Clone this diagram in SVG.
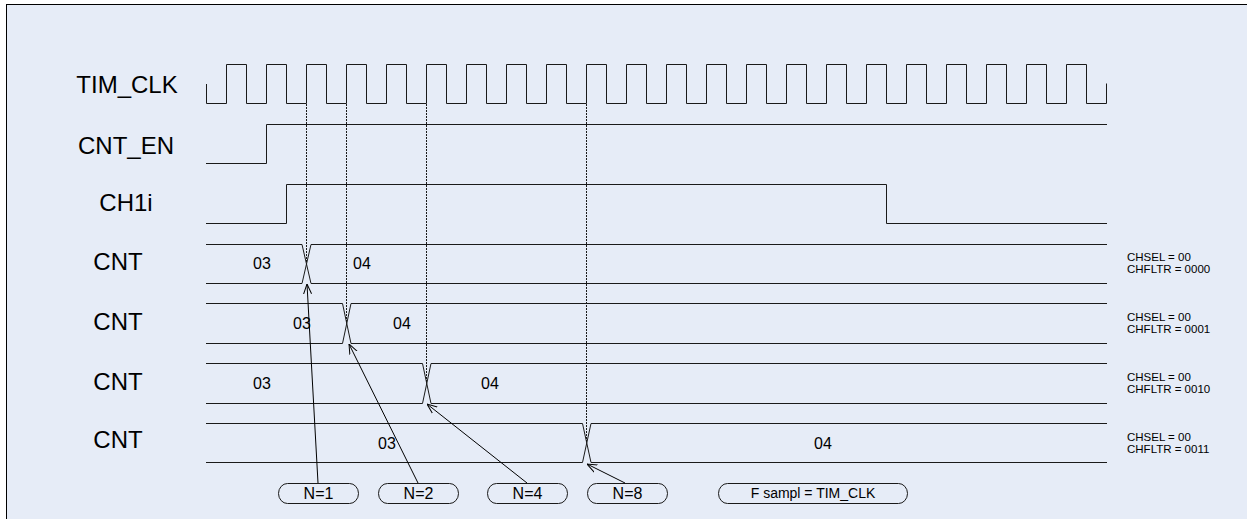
<svg xmlns="http://www.w3.org/2000/svg" width="1247" height="519" viewBox="0 0 1247 519">
<defs>
<style>
.sig{fill:none;stroke:#1a1a1a;stroke-width:1}
.dash{fill:none;stroke:#1a1a1a;stroke-width:1;stroke-dasharray:2,1}
.lbl{font-family:"Liberation Sans",Arial,sans-serif;font-size:24px;fill:#000;text-anchor:middle}
.val{font-family:"Liberation Sans",Arial,sans-serif;font-size:16px;fill:#000;text-anchor:middle}
.cfg{font-family:"Liberation Sans",Arial,sans-serif;font-size:11.5px;fill:#000}
.oval{fill:none;stroke:#1a1a1a;stroke-width:1}
.otx{font-family:"Liberation Sans",Arial,sans-serif;font-size:16px;fill:#000;text-anchor:middle}
.con{fill:none;stroke:#000;stroke-width:1;marker-end:url(#arr)}
</style>
<marker id="arr" viewBox="0 0 10 10" refX="10" refY="5" markerWidth="10" markerHeight="10" markerUnits="userSpaceOnUse" orient="auto">
<path d="M0,1 L10,5 L0,9" fill="none" stroke="#000" stroke-width="1"/>
</marker>
</defs>
<rect x="0" y="0" width="1247" height="519" fill="#fff"/>
<rect x="6.5" y="4.5" width="1250" height="520" fill="#E6ECF7" stroke="#000" stroke-width="1"/>

<g id="tim_clk">
<text class="lbl" x="127" y="93">TIM_CLK</text>
<path class="sig" d="M206.5,84 v19.5 h20 v-39 h20 v39 h20 v-39 h20 v39 h20 v-39 h20 v39 h20 v-39 h20 v39 h20 v-39 h20 v39 h20 v-39 h20 v39 h20 v-39 h20 v39 h20 v-39 h20 v39 h20 v-39 h20 v39 h20 v-39 h20 v39 h20 v-39 h20 v39 h20 v-39 h20 v39 h20 v-39 h20 v39 h20 v-39 h20 v39 h20 v-39 h20 v39 h20 v-39 h20 v39 h20 v-39 h20 v39 h20 v-39 h20 v39 h20 v-39 h20 v39 h20 v-39 h20 v39 h20 v-39 h20 v39 h20 v-39 h20 v39 h20 v-20"/>
</g>

<g id="cnt_en">
<text class="lbl" x="126" y="154">CNT_EN</text>
<path class="sig" d="M206,163.5 H266.5 V124.5 H1107"/>
</g>

<g id="ch1i">
<text class="lbl" x="126" y="211">CH1i</text>
<path class="sig" d="M206,223.5 H286.5 V184.5 H886.5 V223.5 H1107"/>
</g>

<g id="sample_edges">
<path class="dash" d="M306.5,104 V262"/>
<path class="dash" d="M346.5,104 V322"/>
<path class="dash" d="M426.5,104 V382"/>
<path class="dash" d="M586.5,104 V442"/>
</g>

<g id="cnt1">
<text class="lbl" x="118" y="270">CNT</text>
<path class="sig" d="M206,244.5 H302 L311,283.5 H1107 M206,283.5 H302 L311,244.5 H1107"/>
<text class="val" x="262" y="269">03</text>
<text class="val" x="362" y="269">04</text>
<text class="cfg" x="1127" y="261">CHSEL = 00</text>
<text class="cfg" x="1127" y="273">CHFLTR = 0000</text>
</g>

<g id="cnt2">
<text class="lbl" x="118" y="330">CNT</text>
<path class="sig" d="M206,303.5 H342.5 L351,343.5 H1107 M206,343.5 H342.5 L351,303.5 H1107"/>
<text class="val" x="302" y="329">03</text>
<text class="val" x="402" y="329">04</text>
<text class="cfg" x="1127" y="321">CHSEL = 00</text>
<text class="cfg" x="1127" y="333">CHFLTR = 0001</text>
</g>

<g id="cnt3">
<text class="lbl" x="118" y="390">CNT</text>
<path class="sig" d="M206,363.5 H422.5 L431,403.5 H1107 M206,403.5 H422.5 L431,363.5 H1107"/>
<text class="val" x="262" y="389">03</text>
<text class="val" x="490" y="389">04</text>
<text class="cfg" x="1127" y="381">CHSEL = 00</text>
<text class="cfg" x="1127" y="393">CHFLTR = 0010</text>
</g>

<g id="cnt4">
<text class="lbl" x="118" y="448">CNT</text>
<path class="sig" d="M206,423.5 H582.5 L591,462.5 H1107 M206,462.5 H582.5 L591,423.5 H1107"/>
<text class="val" x="387" y="449">03</text>
<text class="val" x="823" y="449">04</text>
<text class="cfg" x="1127" y="441">CHSEL = 00</text>
<text class="cfg" x="1127" y="453">CHFLTR = 0011</text>
</g>

<g id="n1">
<rect class="oval" x="278.5" y="483.5" width="80" height="20" rx="9" ry="10"/>
<text class="otx" x="318.5" y="499">N=1</text>
</g>
<g id="n2">
<rect class="oval" x="378.5" y="483.5" width="80" height="20" rx="9" ry="10"/>
<text class="otx" x="418.5" y="499">N=2</text>
</g>
<g id="n4">
<rect class="oval" x="487.5" y="483.5" width="80" height="20" rx="9" ry="10"/>
<text class="otx" x="527.5" y="499">N=4</text>
</g>
<g id="n8">
<rect class="oval" x="587.5" y="483.5" width="80" height="20" rx="9" ry="10"/>
<text class="otx" x="627.5" y="499">N=8</text>
</g>
<g id="fsampl">
<rect class="oval" x="718.5" y="483.5" width="189" height="20" rx="9" ry="10"/>
<text class="otx" x="813" y="498" style="font-size:14px">F sampl = TIM_CLK</text>
</g>

<g id="connectors">
<line class="con" x1="318" y1="483" x2="307" y2="284"/>
<line class="con" x1="418" y1="483" x2="349" y2="344"/>
<line class="con" x1="527" y1="483" x2="427" y2="404"/>
<line class="con" x1="625" y1="483" x2="587" y2="464"/>
</g>
</svg>
